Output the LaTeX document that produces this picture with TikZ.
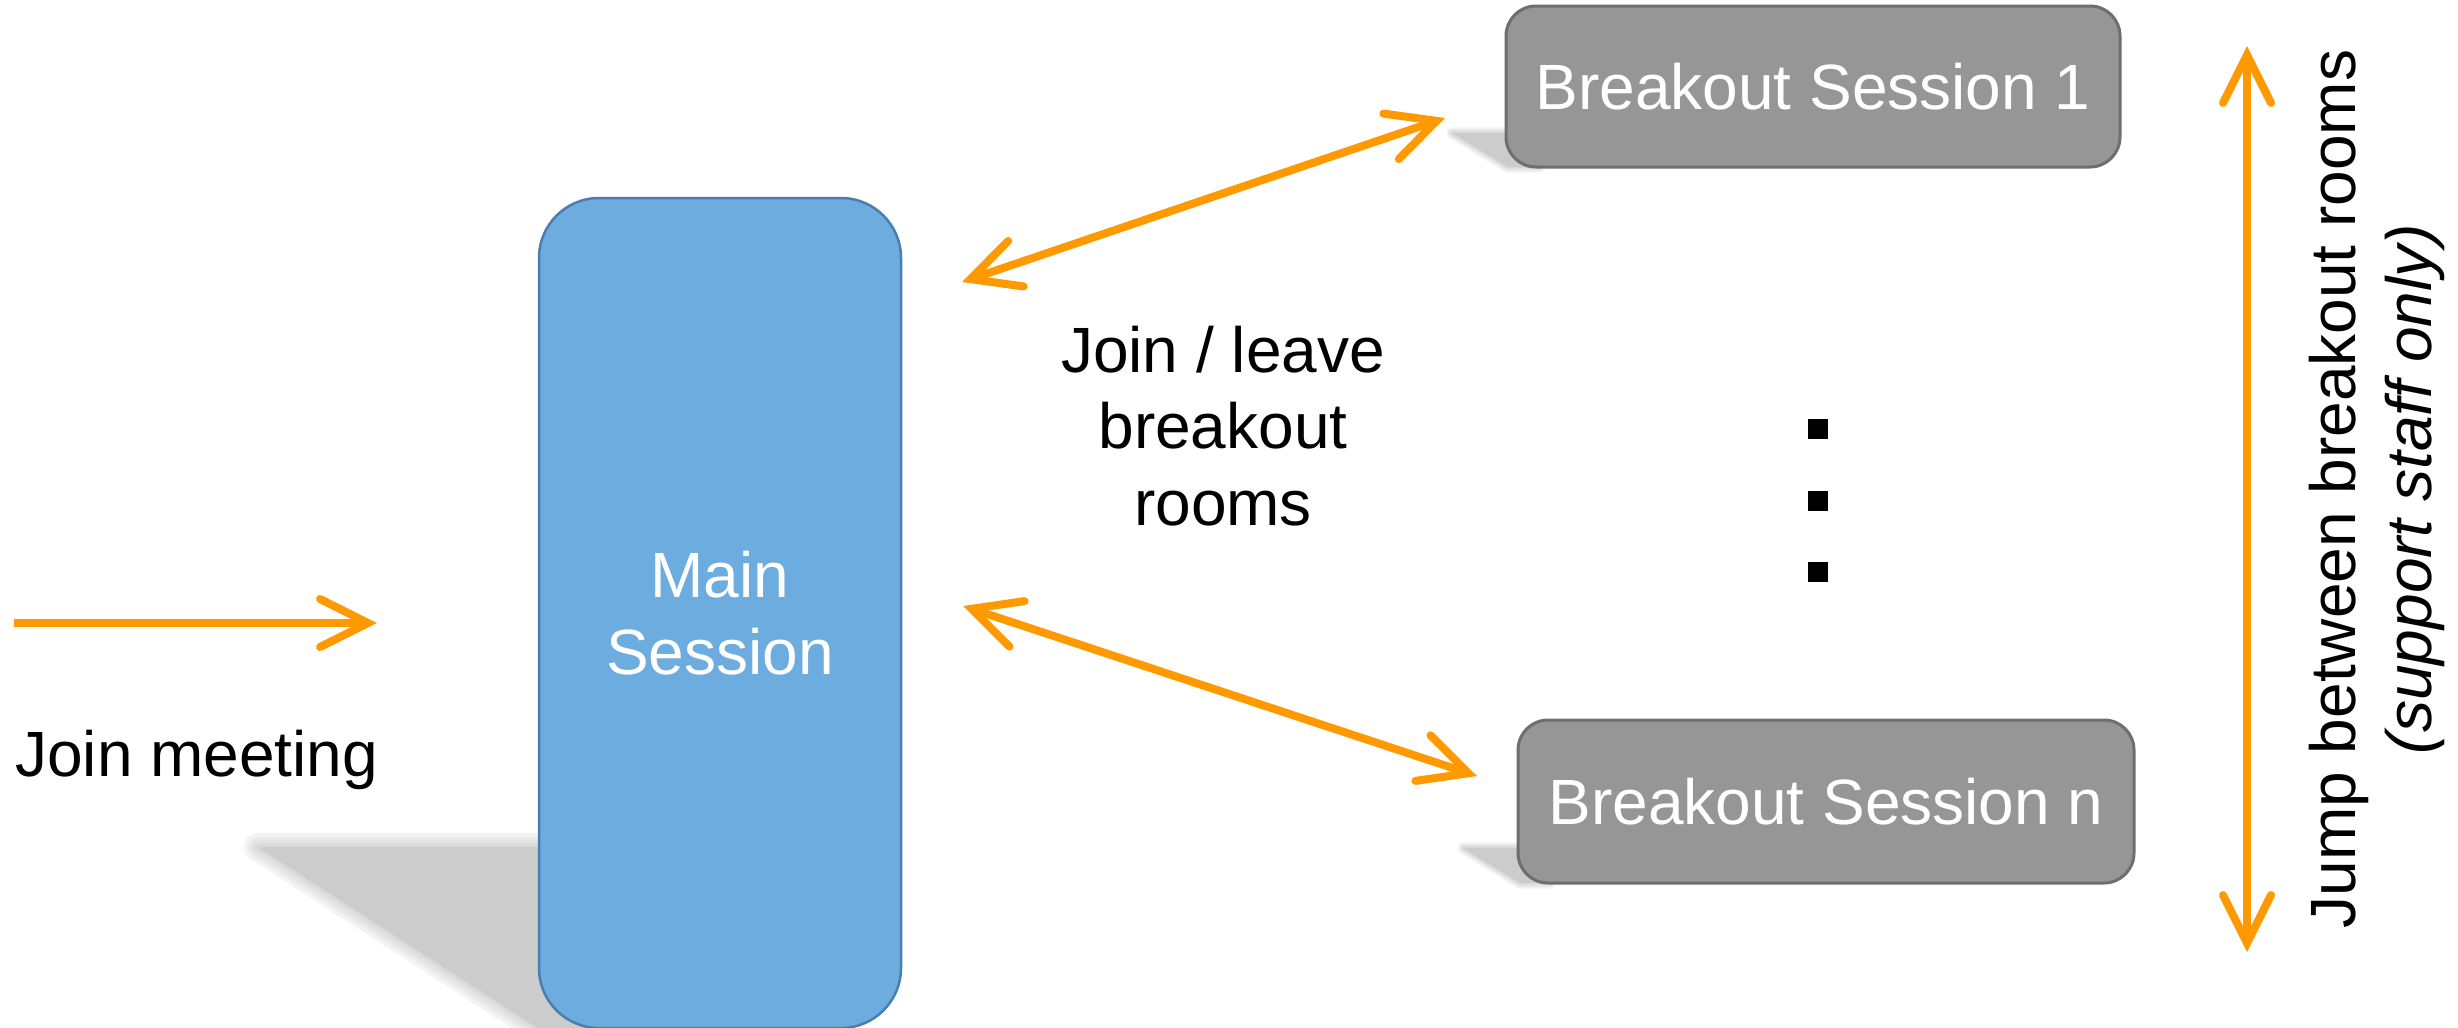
\documentclass[tikz,border=0pt]{standalone}
\usepackage{fontspec}
\setmainfont{Liberation Sans}
\usetikzlibrary{arrows.meta,calc}
\definecolor{orng}{HTML}{FF9900}
\definecolor{mainfill}{HTML}{6CACDE}
\definecolor{mainborder}{HTML}{4A7EAE}
\definecolor{brkfill}{HTML}{969696}
\definecolor{brkborder}{HTML}{6E6E6E}
\definecolor{shadowc}{HTML}{CCCCCC}
\tikzset{
  lbl/.style={inner sep=0pt, text=black, font=\fontsize{32}{38.25}\selectfont},
  mainbox/.style={draw=mainborder, fill=mainfill, line width=1.25pt, rounded corners=30pt,
    minimum width=181pt, minimum height=415pt, text=white, align=center, inner sep=0pt,
    font=\fontsize{32}{38.25}\selectfont},
  brkbox/.style={draw=brkborder, fill=brkfill, line width=1.5pt, rounded corners=15pt,
    minimum width=307pt, minimum height=80.5pt, text=white, inner sep=0pt,
    font=\fontsize{32}{38.25}\selectfont},
  dotbox/.style={rectangle, fill=black, minimum size=10pt, inner sep=0pt},
  arr/.style={draw=orng, line width=4pt,
    >={Straight Barb[length=24pt,width=24pt,line cap=round,line join=miter]}},
  shadowblur/.style={draw=shadowc, line join=round, opacity=0.22},
  shadowfill/.style={fill=shadowc}
}
\begin{document}
\begin{tikzpicture}[x=0.5pt,y=-0.5pt]
\useasboundingbox (0,0) rectangle (2458,1028);
\fill[white] (0,0) rectangle (2458,1028);

% shadows (soft edges by layered transparent strokes)
\foreach \w in {14,10,7,4,2}{
  \draw[shadowblur, line width=\w pt] (258,847) -- (620,847) -- (620,1040) -- (556,1040) -- cycle;
  \draw[shadowblur, line width=0.4*\w pt] (1452,133) -- (1540,133) -- (1540,167) -- (1508,167) -- cycle;
  \draw[shadowblur, line width=0.4*\w pt] (1463,848) -- (1550,848) -- (1550,883) -- (1520,883) -- cycle;
}
\fill[shadowfill] (258,847) -- (620,847) -- (620,1040) -- (556,1040) -- cycle;
\fill[shadowfill] (1452,133) -- (1540,133) -- (1540,167) -- (1508,167) -- cycle;
\fill[shadowfill] (1463,848) -- (1550,848) -- (1550,883) -- (1520,883) -- cycle;

% nodes
\node[mainbox] (main) at (720,613) {Main\\Session};
\node[brkbox] (b1) at (1813,86.5) {Breakout Session 1};
\node[brkbox, minimum width=308pt, minimum height=81.5pt] (bn) at (1826,801.5) {Breakout Session n};

\node[lbl, anchor=base west] (jm) at (15,776) {Join meeting};
\node[lbl, align=center] (jl) at (1223,426) {Join / leave\\breakout\\rooms};
\node[lbl, rotate=90, align=center] (jump) at (2377,489) {Jump between breakout rooms\\\textit{(support staff only)}};

\node[dotbox] (d1) at (1818,429) {};
\node[dotbox] (d2) at (1818,501) {};
\node[dotbox] (d3) at (1818,572) {};

% connector end points
\coordinate (jmA) at (14,623);
\coordinate (jmB) at (377,623);
\coordinate (upA) at (962,282);
\coordinate (upB) at (1445,118);
\coordinate (loA) at (963,606);
\coordinate (loB) at (1477,776);
\coordinate (vtA) at (2247,46);
\coordinate (vtB) at (2247,952);

\draw[arr,->] (jmA) -- (jmB);
\draw[arr,<->] (upA) -- (upB);
\draw[arr,<->] (loA) -- (loB);
\draw[arr,<->] (vtA) -- (vtB);
\end{tikzpicture}
\end{document}
